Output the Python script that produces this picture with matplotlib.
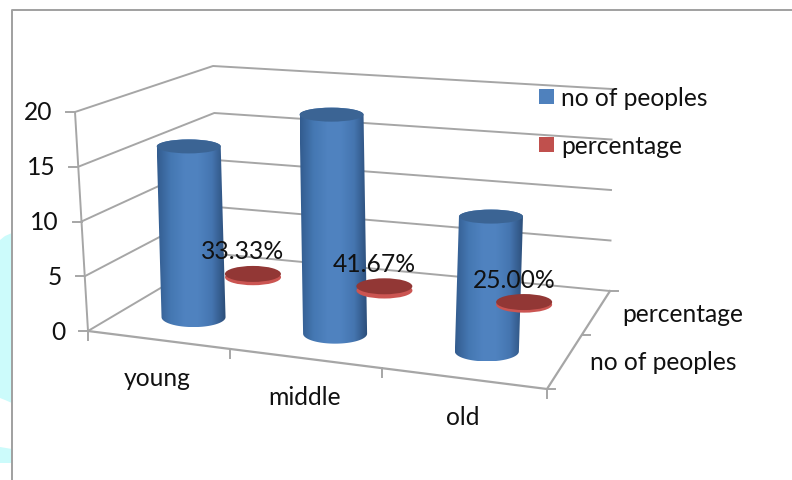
import matplotlib

matplotlib.use("Agg")
import matplotlib.pyplot as plt
import numpy as np
from matplotlib.patches import Ellipse, Polygon

categories = ["young", "middle", "old"]
no_of_peoples = [16, 20, 12]
percentage = [0.3333, 0.4167, 0.25]
y_ticks = [0, 5, 10, 15, 20]
series_names = ["no of peoples", "percentage"]

BLUE = "#4f81bd"
RED = "#c0504d"
GRID = "#a6a6a6"
FRAME = "#a0a0a0"
TEXT = "#111111"
Y_MAX = 20.0
FONT = 17.7

# corners of the floor and ceiling of the 3D box, in pixels
FLOOR = [(88, 331), (547, 389), (610, 291), (218, 254)]
CEIL = [(75, 112), (557, 152), (612, 89), (213, 66)]


def homography(corners):
    # maps the unit square (u along categories, v into depth) onto a quad
    src = [(0, 0), (1, 0), (1, 1), (0, 1)]
    rows, rhs = [], []
    for (u, v), (x, y) in zip(src, corners):
        rows.append([u, v, 1, 0, 0, 0, -u * x, -v * x])
        rows.append([0, 0, 0, u, v, 1, -u * y, -v * y])
        rhs += [x, y]
    h = np.linalg.solve(np.array(rows, float), np.array(rhs, float))
    return np.append(h, 1).reshape(3, 3)


H_FLOOR = homography(FLOOR)
H_CEIL = homography(CEIL)


def project(u, v, value=0.0):
    u = u + 0.04 * u * (1 - u)  # softens the perspective along the category axis
    floor = H_FLOOR @ [u, v, 1]
    ceil = H_CEIL @ [u, v, 1]
    floor = floor[:2] / floor[2]
    ceil = ceil[:2] / ceil[2]
    return floor + (ceil - floor) * value / Y_MAX


def draw_cylinder(ax, u, v, value, rx, ry_top, ry_base):
    x0, y0 = project(u, v)
    x1, y1 = project(u, v, value)
    x1 += 3  # tubes lean a little less than the box walls
    t = np.linspace(0, np.pi, 60)
    base = np.column_stack([x0 + rx * np.cos(t), y0 + ry_base * np.sin(t)])
    top = np.column_stack([x1 - rx * np.cos(t), y1 - ry_top * np.sin(t)])
    outline = Polygon(np.vstack([base, top]), closed=True, fc="none", ec="none")
    ax.add_patch(outline)

    # horizontal shading across the tube
    shade = np.array([[0.20, 0.36, 0.56], [0.27, 0.47, 0.70], [0.31, 0.51, 0.75],
                      [0.31, 0.51, 0.75], [0.27, 0.46, 0.69], [0.17, 0.30, 0.47]])
    pos = np.linspace(0, 1, len(shade))
    s = np.linspace(0, 1, 128)
    ramp = np.column_stack([np.interp(s, pos, shade[:, c]) for c in range(3)])[None, :, :]
    left = min(x0, x1) - rx
    right = max(x0, x1) + rx
    im = ax.imshow(ramp, extent=(left, right, y0 + ry_base, y1 - ry_top),
                   aspect="auto", zorder=outline.get_zorder())
    im.set_clip_path(outline)
    ax.add_patch(Ellipse((x1, y1), 2 * rx, 2 * ry_top, fc="#3b6494", ec="none", zorder=3))


def draw_disc(ax, u, v, value, rx, ry):
    x0, y0 = project(u, v)
    x1, y1 = project(u, v, value)
    ax.add_patch(Ellipse((x0, y0), 2 * rx, 2 * ry, fc="#cb5552", ec="none", zorder=1.5))
    ax.add_patch(Ellipse((x1, y1), 2 * rx, 2 * ry, fc="#923735", ec="none", zorder=1.6))


fig = plt.figure(figsize=(7.92, 4.8), dpi=100)
ax = fig.add_axes([0, 0, 1, 1])
plt.rcParams["font.family"] = ["Lato", "DejaVu Sans"]

# page furniture around the chart
ax.add_patch(Polygon([(0, 240), (5, 236), (12, 233), (12, 403), (5, 400), (0, 398)], fc="#ccfbfb", ec="none"))
ax.add_patch(Polygon([(0, 447), (12, 449), (12, 463), (0, 463)], fc="#ccfbfb", ec="none"))
ax.plot([12, 12, 792], [480, 9.5, 9.5], color=FRAME, lw=1.4, zorder=1)

# walls, floor edge and axes
for tick in y_ticks:
    pts = np.array([project(0, 0, tick), project(0, 1, tick), project(1, 1, tick)])
    ax.plot(pts[:, 0], pts[:, 1], color=GRID, lw=1.4, zorder=1)
    x, y = project(0, 0, tick)
    ax.plot([x - 9, x], [y, y], color=GRID, lw=1.4, zorder=1)
    ax.text(x - 23, y + 1, str(tick), ha="right", va="center", fontsize=FONT, color=TEXT)

axis_pts = np.array([project(0, 0), project(0, 0, Y_MAX)])
ax.plot(axis_pts[:, 0], axis_pts[:, 1], color=GRID, lw=1.4, zorder=1)
edge = np.array([project(0, 0), project(1, 0), project(1, 1)])
ax.plot(edge[:, 0], edge[:, 1], color=GRID, lw=1.6, zorder=1)

n = len(categories)
for i in range(n + 1):
    x, y = project(i / n, 0)
    ax.plot([x, x], [y, y + 9], color=GRID, lw=1.4, zorder=1)
for v in (0.0, 0.5, 1.0):
    x, y = project(1, v)
    ax.plot([x, x + 8], [y, y], color=GRID, lw=1.4, zorder=1)

# percentage discs sit behind the people cylinders
for i, value in enumerate(percentage):
    draw_disc(ax, (i + 0.505) / n, 0.75, value, 28, 8)
for i, value in enumerate(no_of_peoples):
    draw_cylinder(ax, (i + 0.51) / n, 0.25, value, 32, 7, 10)

for i, value in enumerate(percentage):
    x, y = project((i + 0.505) / n, 0.75, value)
    ax.text(x - 10, y - 22, f"{value:.2%}", ha="center", va="center", fontsize=FONT, color=TEXT, zorder=5)

for i, name in enumerate(categories):
    x, y = project((i + 0.5) / n, 0)
    ax.text(x, y + 39, name, ha="center", va="center", fontsize=FONT, color=TEXT)

for name, (x, y) in zip(series_names, [(590, 362), (622, 314)]):
    ax.text(x, y, name, ha="left", va="center", fontsize=FONT, color=TEXT)

# legend
for name, color, y in zip(series_names, [BLUE, RED], [97, 145]):
    ax.add_patch(Polygon([(539, y - 8), (554, y - 8), (554, y + 7), (539, y + 7)], fc=color, ec="none", zorder=4))
    ax.text(561, y + 1, name, ha="left", va="center", fontsize=FONT, color=TEXT, zorder=5)

ax.set_xlim(0, 792)
ax.set_ylim(480, 0)
ax.axis("off")
fig.savefig("out.png", dpi=100)
